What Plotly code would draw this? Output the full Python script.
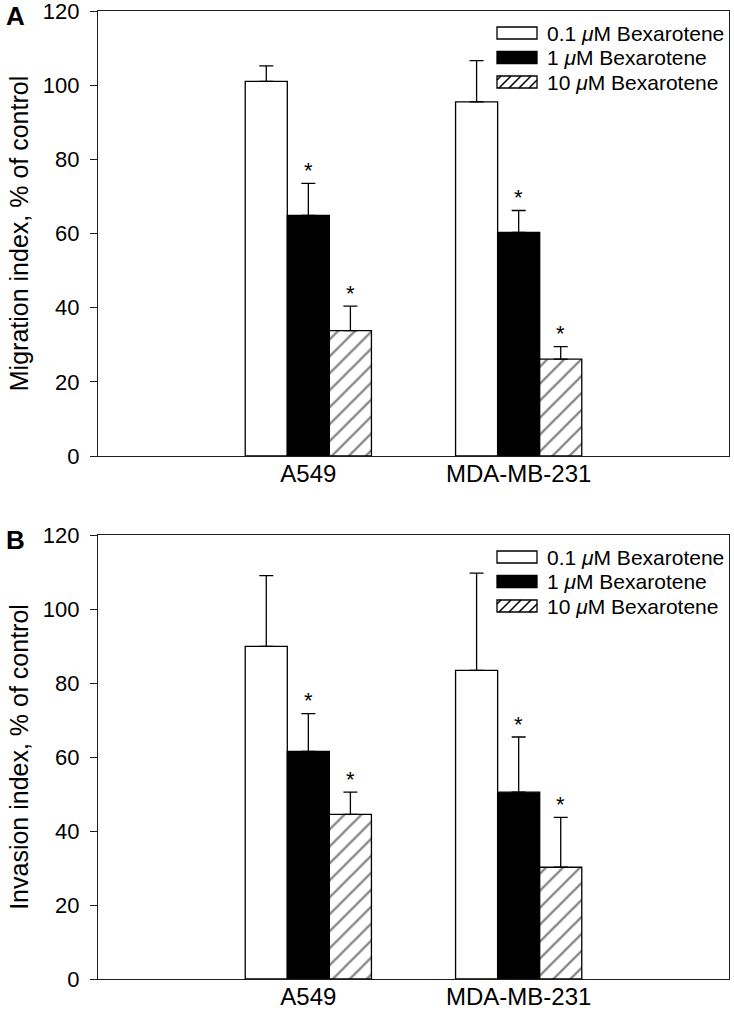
import plotly.graph_objects as go

# ---------------- data ----------------
cell_lines = ["A549", "MDA-MB-231"]
series_names = ["0.1 <i>μ</i>M Bexarotene", "1 <i>μ</i>M Bexarotene", "10 <i>μ</i>M Bexarotene"]

migration_low = [101.0, 95.5]
migration_mid = [64.9, 60.3]
migration_high = [33.8, 26.1]
migration_low_err = [4.2, 11.1]
migration_mid_err = [8.6, 5.9]
migration_high_err = [6.6, 3.4]

invasion_low = [89.9, 83.4]
invasion_mid = [61.5, 50.5]
invasion_high = [44.5, 30.2]
invasion_low_err = [19.1, 26.3]
invasion_mid_err = [10.2, 14.9]
invasion_high_err = [6.0, 13.5]

# significance markers (True -> '*')
migration_sig = [[False, False], [True, True], [True, True]]
invasion_sig = [[False, False], [True, True], [True, True]]

y_ticks = [0, 20, 40, 60, 80, 100, 120]

# ---------------- layout geometry (pixels) ----------------
W, H = 734, 1013
PL, PR = 98, 729
A_TOP, A_BOT = 11, 456
B_TOP, B_BOT = 535, 979
FONT = "Liberation Sans, Arial, Helvetica, sans-serif"
LINE = "#1e1e1e"


def fx(p):
    return p / W


def fy(p):
    return 1 - p / H


fig = go.Figure()

styles = [
    dict(color="white", pattern=None),
    dict(color="black", pattern=None),
    dict(color="white", pattern=dict(shape="/", fgcolor="black", bgcolor="white", size=12, solidity=0.19)),
]

panels = [
    dict(x="x", y="y", vals=[migration_low, migration_mid, migration_high],
         errs=[migration_low_err, migration_mid_err, migration_high_err], sig=migration_sig),
    dict(x="x2", y="y2", vals=[invasion_low, invasion_mid, invasion_high],
         errs=[invasion_low_err, invasion_mid_err, invasion_high_err], sig=invasion_sig),
]

offsets = [-0.2, 0.0, 0.2]
annotations = []
for p in panels:
    for i in range(3):
        marker = dict(color=styles[i]["color"], line=dict(color="black", width=1.3))
        if styles[i]["pattern"] is not None:
            marker["pattern"] = styles[i]["pattern"]
        fig.add_trace(go.Bar(
            x=cell_lines, y=p["vals"][i], name=series_names[i], xaxis=p["x"], yaxis=p["y"],
            marker=marker, showlegend=False,
            error_y=dict(type="data", array=p["errs"][i], arrayminus=[0] * len(cell_lines),
                         symmetric=False, color="black", thickness=1.3, width=7),
        ))
        for j in range(len(cell_lines)):
            if p["sig"][i][j]:
                annotations.append(dict(
                    x=j + offsets[i], y=p["vals"][i][j] + p["errs"][i][j],
                    xref=p["x"], yref=p["y"], text="*", showarrow=False,
                    xanchor="center", yanchor="middle", yshift=13,
                    font=dict(family=FONT, size=22, color="black"),
                ))

# panel letters
annotations.append(dict(x=fx(15), y=fy(16), xref="paper", yref="paper", text="<b>A</b>",
                        xanchor="center", yanchor="middle",
                        showarrow=False, font=dict(family=FONT, size=26, color="black")))
annotations.append(dict(x=fx(15), y=fy(540), xref="paper", yref="paper", text="<b>B</b>",
                        xanchor="center", yanchor="middle",
                        showarrow=False, font=dict(family=FONT, size=26, color="black")))

# custom legend (swatch + text) for each panel
shapes = []
fills = ["white", "black", "white"]
for top in (A_TOP, B_TOP):
    for i in range(3):
        yc = top + 22 + 24.5 * i
        x0, x1 = 497, 537
        yt, yb = yc - 6, yc + 6
        shapes.append(dict(type="rect", xref="paper", yref="paper",
                           x0=fx(x0), x1=fx(x1), y0=fy(yb), y1=fy(yt),
                           fillcolor=fills[i], line=dict(color="black", width=1.3)))
        if i == 2:
            h = yb - yt
            segs = []
            k = -h + 4
            while k < (x1 - x0):
                sx, sy = x0 + k, yb
                ex, ey = x0 + k + h, yt
                if sx < x0:
                    d = x0 - sx
                    sx, sy = x0, yb - d
                if ex > x1:
                    d = ex - x1
                    ex, ey = x1, yt + d
                if ex > sx:
                    segs.append(f"M{fx(sx):.5f},{fy(sy):.5f} L{fx(ex):.5f},{fy(ey):.5f}")
                k += 10
            shapes.append(dict(type="path", xref="paper", yref="paper", path=" ".join(segs),
                               line=dict(color="black", width=1.5)))
        annotations.append(dict(x=fx(545), y=fy(yc), xref="paper", yref="paper",
                                text=series_names[i], showarrow=False, xanchor="left",
                                yanchor="middle", font=dict(family=FONT, size=21, color="black")))

xaxis_common = dict(
    type="category", range=[-1, 2], showline=True, linecolor=LINE, linewidth=1.3, mirror=True,
    ticks="", showgrid=False, zeroline=False, automargin=False, ticklabelstandoff=-4,
    ticklabeloverflow="allow",
    tickfont=dict(family=FONT, size=24, color="black"),
)
yaxis_common = dict(
    range=[0, 120], tickvals=y_ticks, showline=True, linecolor=LINE, linewidth=1.3, mirror=True,
    ticks="outside", ticklen=7, tickwidth=1.2, tickcolor=LINE, showgrid=False, zeroline=False,
    automargin=False, ticklabelstandoff=6, ticklabeloverflow="allow",
    tickfont=dict(family=FONT, size=22, color="black"),
    title_font=dict(family=FONT, size=25, color="black"),
)

fig.update_layout(
    width=W, height=H, margin=dict(l=0, r=0, t=0, b=0, autoexpand=False),
    paper_bgcolor="white", plot_bgcolor="white",
    barmode="group", bargap=0.4, bargroupgap=0,
    xaxis=dict(domain=[fx(PL), fx(PR)], anchor="y", **xaxis_common),
    yaxis=dict(domain=[fy(A_BOT), fy(A_TOP)], anchor="x",
               title=dict(text="Migration index, % of control", standoff=6), **yaxis_common),
    xaxis2=dict(domain=[fx(PL), fx(PR)], anchor="y2", **xaxis_common),
    yaxis2=dict(domain=[fy(B_BOT), fy(B_TOP)], anchor="x2",
                title=dict(text="Invasion index, % of control", standoff=6), **yaxis_common),
    annotations=annotations, shapes=shapes, showlegend=False,
)

fig.write_html("out.html", config={"displayModeBar": False},
               post_script="document.body.style.margin='0px';")
